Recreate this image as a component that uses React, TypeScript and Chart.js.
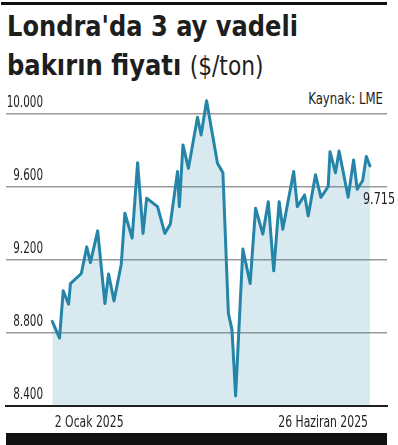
import React, { useEffect, useRef } from "react";
import { Chart, registerables } from "chart.js";

Chart.register(...registerables);

// Trading-day positions (calendar days after 2 Jan 2025) and LME 3-month copper prices ($/ton)
const days = [
  0, 4, 6, 9, 10, 16, 19, 21, 25, 29, 31, 34, 38, 40, 44, 47, 50, 52, 58, 62,
  65, 69, 70, 72, 75, 80, 82, 85, 91, 94, 97, 99, 101, 105, 109, 112, 116, 119,
  122, 125, 127, 133, 135, 139, 141, 145, 148, 152, 153, 156, 158, 163, 166,
  168, 171, 173, 175,
];
const prices = [
  8862, 8771, 9030, 8957, 9070, 9125, 9271, 9185, 9359, 8960, 9122, 8975, 9176,
  9456, 9319, 9733, 9345, 9538, 9492, 9345, 9395, 9684, 9492, 9830, 9702, 9982,
  9885, 10073, 9730, 9678, 8908, 8816, 8453, 9259, 9070, 9483, 9341, 9519, 9140,
  9519, 9368, 9684, 9492, 9556, 9441, 9667, 9543, 9602, 9793, 9678, 9797, 9543,
  9748, 9587, 9635, 9767, 9715,
];
const yTicks = [8400, 8800, 9200, 9600, 10000];
const xTickDays = [0, 175];
const xTickLabels = ["2 Ocak 2025", "26 Haziran 2025"];
const lastLabel = "9.715";
const titleLine1 = "Londra'da 3 ay vadeli";
const titleLine2 = "bakırın fiyatı";
const titleUnit = "($/ton)";
const sourceText = "Kaynak: LME";

const FONT = "'Liberation Sans Narrow', 'DejaVu Sans Condensed', 'Roboto', sans-serif";
const LINE = "#2585a8";
const FILL = "rgba(37,133,168,0.18)";
const TEXT = "#1e1e1e";

const fmt = (v: number) => String(v).replace(/\B(?=(\d{3})+(?!\d))/g, ".");

// Draws the axis tick labels (condensed) at positions given by the chart's own scales
const axisLabelPlugin = {
  id: "axisLabels",
  afterDraw(chart: any) {
    const ctx = chart.ctx;
    const ys = chart.scales.y;
    const xs = chart.scales.x;
    const area = chart.chartArea;
    ctx.save();
    ctx.fillStyle = TEXT;
    ctx.textBaseline = "alphabetic";
    // y labels: right aligned, sitting above their grid line
    ctx.font = `15px ${FONT}`;
    ctx.textAlign = "right";
    ys.ticks.forEach((t: any) => {
      const y = ys.getPixelForValue(t.value);
      ctx.save();
      ctx.translate(area.left + 37, y - 6.5);
      ctx.scale(0.77, 1);
      ctx.fillText(fmt(t.value), 0, 0);
      ctx.restore();
    });
    // x labels: first left aligned, last right aligned
    ctx.font = `16.5px ${FONT}`;
    xs.ticks.forEach((t: any, i: number) => {
      const x = xs.getPixelForValue(t.value);
      const first = i === 0;
      ctx.save();
      ctx.translate(first ? x + 2.5 : x - 2, area.bottom + 21);
      ctx.scale(0.73, 1);
      ctx.textAlign = first ? "left" : "right";
      ctx.fillText(xTickLabels[i], 0, 0);
      ctx.restore();
    });
    ctx.restore();
  },
};

export default function App() {
  const ref = useRef<HTMLCanvasElement | null>(null);

  useEffect(() => {
    if (!ref.current) return;
    const chart = new Chart(ref.current, {
      type: "line",
      data: {
        datasets: [
          {
            data: days.map((d, i) => ({ x: d, y: prices[i] })),
            borderColor: LINE,
            borderWidth: 3,
            backgroundColor: FILL,
            fill: "start",
            pointRadius: 0,
            tension: 0,
            borderJoinStyle: "round",
            borderCapStyle: "round",
          },
        ],
      },
      options: {
        animation: false,
        responsive: false,
        maintainAspectRatio: false,
        layout: { padding: { left: 6, right: 11, top: 95, bottom: 34.3 } },
        plugins: { legend: { display: false }, tooltip: { enabled: false } },
        scales: {
          x: {
            type: "linear",
            min: -25.5,
            max: 184.4,
            afterBuildTicks: (s: any) => {
              s.ticks = xTickDays.map((v) => ({ value: v }));
            },
            ticks: { display: false },
            grid: { display: false, drawTicks: false },
            border: { display: true, color: "#1e1e1e", width: 2 },
          },
          y: {
            type: "linear",
            min: 8400,
            max: 10104,
            afterBuildTicks: (s: any) => {
              s.ticks = yTicks.map((v) => ({ value: v }));
            },
            ticks: { display: false },
            grid: {
              drawTicks: false,
              lineWidth: 1.5,
              color: (ctx: any) =>
                ctx.tick && ctx.tick.value === 8400 ? "rgba(0,0,0,0)" : "#9a9a9a",
            },
            border: { display: false },
          },
        },
      },
      plugins: [axisLabelPlugin],
    } as any);
    return () => chart.destroy();
  }, []);

  return (
    <div
      style={{
        position: "fixed",
        left: 0,
        top: 0,
        width: 398,
        height: 445,
        background: "#fff",
        overflow: "hidden",
        fontFamily: FONT,
        color: TEXT,
      }}
    >
      <div style={{ position: "absolute", left: 1, top: 2, width: 386, height: 2.5, background: "#111" }} />
      <div
        style={{
          position: "absolute",
          left: 7,
          top: 11.5,
          fontSize: 29,
          lineHeight: "29px",
          fontWeight: 700,
          whiteSpace: "nowrap",
          transform: "scaleX(0.925)",
          transformOrigin: "left center",
        }}
      >
        {titleLine1}
      </div>
      <div
        style={{
          position: "absolute",
          left: 7,
          top: 50.5,
          fontSize: 29,
          lineHeight: "29px",
          fontWeight: 700,
          whiteSpace: "nowrap",
          transform: "scaleX(0.93)",
          transformOrigin: "left center",
        }}
      >
        {titleLine2}{" "}
        <span style={{ fontWeight: 400, fontSize: 26 }}>{titleUnit}</span>
      </div>
      <div
        style={{
          position: "absolute",
          right: 15,
          top: 91.5,
          fontSize: 15,
          lineHeight: "15px",
          whiteSpace: "nowrap",
          transform: "scaleX(0.87)",
          transformOrigin: "right center",
        }}
      >
        {sourceText}
      </div>
      <canvas
        ref={ref}
        width={398}
        height={440}
        style={{ position: "absolute", left: 0, top: 0, width: 398, height: 440 }}
      />
      <div
        style={{
          position: "absolute",
          left: 363,
          top: 192,
          fontSize: 15,
          lineHeight: "15px",
          whiteSpace: "nowrap",
          transform: "scaleX(0.83)",
          transformOrigin: "left center",
        }}
      >
        {lastLabel}
      </div>
      <div style={{ position: "absolute", left: 6, top: 433, width: 381, height: 12, background: "#111" }} />
    </div>
  );
}
